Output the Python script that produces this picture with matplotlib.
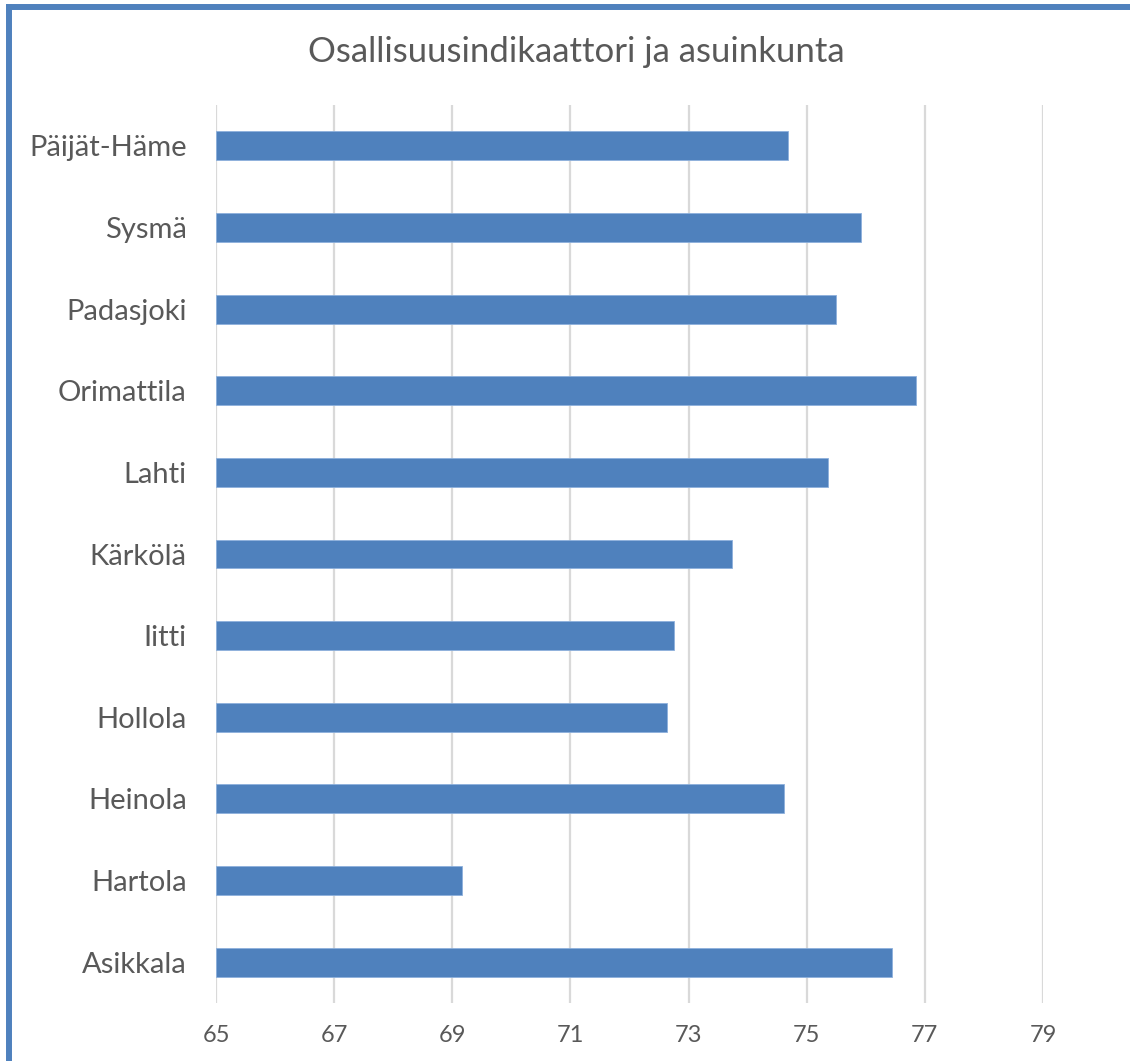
import matplotlib
matplotlib.use("Agg")
import matplotlib.pyplot as plt
from matplotlib.lines import Line2D

categories = ["Asikkala", "Hartola", "Heinola", "Hollola", "Iitti", "Kärkölä",
              "Lahti", "Orimattila", "Padasjoki", "Sysmä", "Päijät-Häme"]
values = [76.44, 69.16, 74.61, 72.64, 72.75, 73.74, 75.36, 76.85, 75.50, 75.92, 74.69]
xticks = [65, 67, 69, 71, 73, 75, 77, 79]
title = "Osallisuusindikaattori ja asuinkunta"

W, H = 1130, 1061
plt.rcParams['font.family'] = ['Lato', 'DejaVu Sans']
fig = plt.figure(figsize=(W / 100, H / 100), dpi=100)
fig.patch.set_facecolor('white')

left, right, top, bottom = 216, 1043, 105, 1003
ax = fig.add_axes([left / W, 1 - bottom / H, (right - left) / W, (bottom - top) / H])

y = list(range(len(categories)))
ax.barh(y, [v - 65 for v in values], left=65, height=0.355, color='#4F81BD',
        edgecolor='#8DB0DC', linewidth=0.6, zorder=3)
ax.set_xlim(65, 79)
ax.set_ylim(-0.5, len(categories) - 0.5)
ax.set_yticks(y)
ax.set_yticklabels(categories)
ax.set_xticks(xticks)
ax.set_xticklabels([str(t) for t in xticks])
ax.tick_params(axis='y', length=0, pad=21, labelsize=21, labelcolor='#595959')
ax.tick_params(axis='x', length=0, pad=16, labelsize=17, labelcolor='#595959')
ax.grid(axis='x', color='#D9D9D9', linewidth=1.6, zorder=0)
ax.set_axisbelow(True)
for s in ax.spines.values():
    s.set_visible(False)

fig.text(576 / W, 1 - 52 / H, title, ha='center', va='center', fontsize=25, color='#595959')

bc = '#4F81BD'
fig.add_artist(Line2D([9 / W, 9 / W], [0, 1 - 7 / H], transform=fig.transFigure,
                      color=bc, linewidth=4.3, solid_capstyle='projecting'))
fig.add_artist(Line2D([9 / W, 1.0], [1 - 7 / H, 1 - 7 / H], transform=fig.transFigure,
                      color=bc, linewidth=4.3, solid_capstyle='projecting'))

fig.savefig('out.png', dpi=100)
